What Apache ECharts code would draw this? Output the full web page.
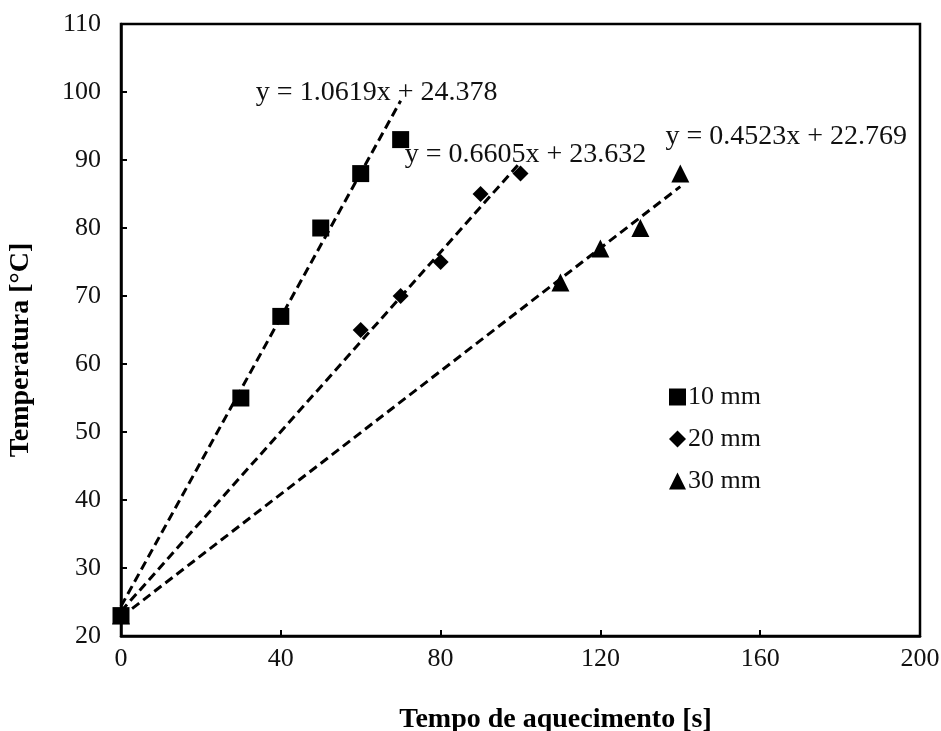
<!DOCTYPE html>
<html>
<head>
<meta charset="utf-8">
<script src="https://cdn.jsdelivr.net/npm/echarts@6/dist/echarts.min.js"></script>
<style>
  html, body { margin: 0; padding: 0; background: #fff; }
  #chart { width: 941px; height: 731px; }
</style>
</head>
<body>
<div id="chart"></div>
<script>
// Heating time (s) vs temperature (°C) for three thicknesses
const time10 = [0, 30, 40, 50, 60, 70];
const temp10 = [23, 55, 67, 80, 88, 93];
const time20 = [0, 60, 70, 80, 90, 100];
const temp20 = [23, 65, 70, 75, 85, 88];
const time30 = [0, 110, 120, 130, 140];
const temp30 = [23, 72, 77, 80, 88];

const seriesNames = ['10 mm', '20 mm', '30 mm'];
// Linear fits: slope, intercept, and x-range of each fit line
const fitSlope = [1.0619, 0.6605, 0.4523];
const fitIntercept = [24.378, 23.632, 22.769];
const fitRange = [[0, 70], [0, 100], [0, 140]];
const fitText = ['y = 1.0619x + 24.378', 'y = 0.6605x + 23.632', 'y = 0.4523x + 22.769'];

const xTicks = [0, 40, 80, 120, 160, 200];
const yTicks = [20, 30, 40, 50, 60, 70, 80, 90, 100, 110];

const SERIF = '"Liberation Serif", "DejaVu Serif", serif';
const INK = '#111';

const zip = (xs, ys) => xs.map((x, i) => [x, ys[i]]);

// offsets of each equation label from the end of its fit line
const labelOffsets = [[-24, 6], [5, 6], [106, -36]];

function fitSeries(k) {
  const pts = fitRange[k].map(x => [x, fitSlope[k] * x + fitIntercept[k]]);
  return {
    type: 'line',
    name: 'fit' + k,
    silent: true,
    symbol: 'circle',
    symbolSize: 0,
    showSymbol: true,
    z: 1,
    lineStyle: { color: '#000', width: 3, type: [9, 5] },
    itemStyle: { color: 'transparent' },
    data: [
      { value: pts[0] },
      {
        value: pts[1],
        label: {
          show: true,
          position: 'top',
          distance: 0,
          offset: labelOffsets[k],
          formatter: fitText[k],
          fontFamily: SERIF,
          fontSize: 28,
          color: INK
        }
      }
    ]
  };
}

const chart = echarts.init(document.getElementById('chart'));
chart.setOption({
  animation: false,
  backgroundColor: '#fff',
  grid: {
    left: 121, right: 21, top: 24, bottom: 95,
    outerBoundsMode: 'none',
    show: true, borderColor: '#000', borderWidth: 2.5
  },
  legend: {
    orient: 'vertical',
    left: 664, top: 379,
    itemWidth: 17, itemHeight: 17,
    itemGap: 16,
    data: [
      { name: seriesNames[0], icon: 'rect' },
      { name: seriesNames[1], icon: 'diamond' },
      { name: seriesNames[2], icon: 'triangle' }
    ],
    textStyle: { fontFamily: SERIF, fontSize: 26, color: INK, padding: [0, 0, 0, -3] }
  },
  xAxis: {
    type: 'value',
    min: xTicks[0], max: xTicks[xTicks.length - 1], interval: 40,
    name: 'Tempo de aquecimento [s]',
    nameLocation: 'middle',
    nameGap: 70,
    nameTextStyle: { fontFamily: SERIF, fontSize: 28, fontWeight: 'bold', color: '#000', padding: [0, 0, 0, 70] },
    axisLine: { lineStyle: { color: '#000', width: 2.5 } },
    axisTick: { inside: true, length: 6, lineStyle: { color: '#000', width: 2 } },
    axisLabel: { margin: 10, fontFamily: SERIF, fontSize: 26, color: INK },
    splitLine: { show: false }
  },
  yAxis: {
    type: 'value',
    min: yTicks[0], max: yTicks[yTicks.length - 1], interval: 10,
    name: 'Temperatura [°C]',
    nameLocation: 'middle',
    nameRotate: 90,
    nameGap: 86,
    nameTextStyle: { fontFamily: SERIF, fontSize: 28, fontWeight: 'bold', color: '#000', padding: [0, 40, 0, 0] },
    axisLine: { lineStyle: { color: '#000', width: 2.5 } },
    axisTick: { inside: true, length: 6, lineStyle: { color: '#000', width: 2 } },
    axisLabel: { margin: 20, fontFamily: SERIF, fontSize: 26, color: INK },
    splitLine: { show: false }
  },
  series: [
    fitSeries(0), fitSeries(1), fitSeries(2),
    {
      type: 'scatter', name: seriesNames[2], symbol: 'triangle', symbolSize: 18, z: 3,
      itemStyle: { color: '#000', opacity: 1 }, data: zip(time30, temp30)
    },
    {
      type: 'scatter', name: seriesNames[1], symbol: 'diamond', symbolSize: 16, z: 4,
      itemStyle: { color: '#000', opacity: 1 }, data: zip(time20, temp20)
    },
    {
      type: 'scatter', name: seriesNames[0], symbol: 'rect', symbolSize: 17, z: 5,
      itemStyle: { color: '#000', opacity: 1 }, data: zip(time10, temp10)
    }
  ]
});
</script>
</body>
</html>
